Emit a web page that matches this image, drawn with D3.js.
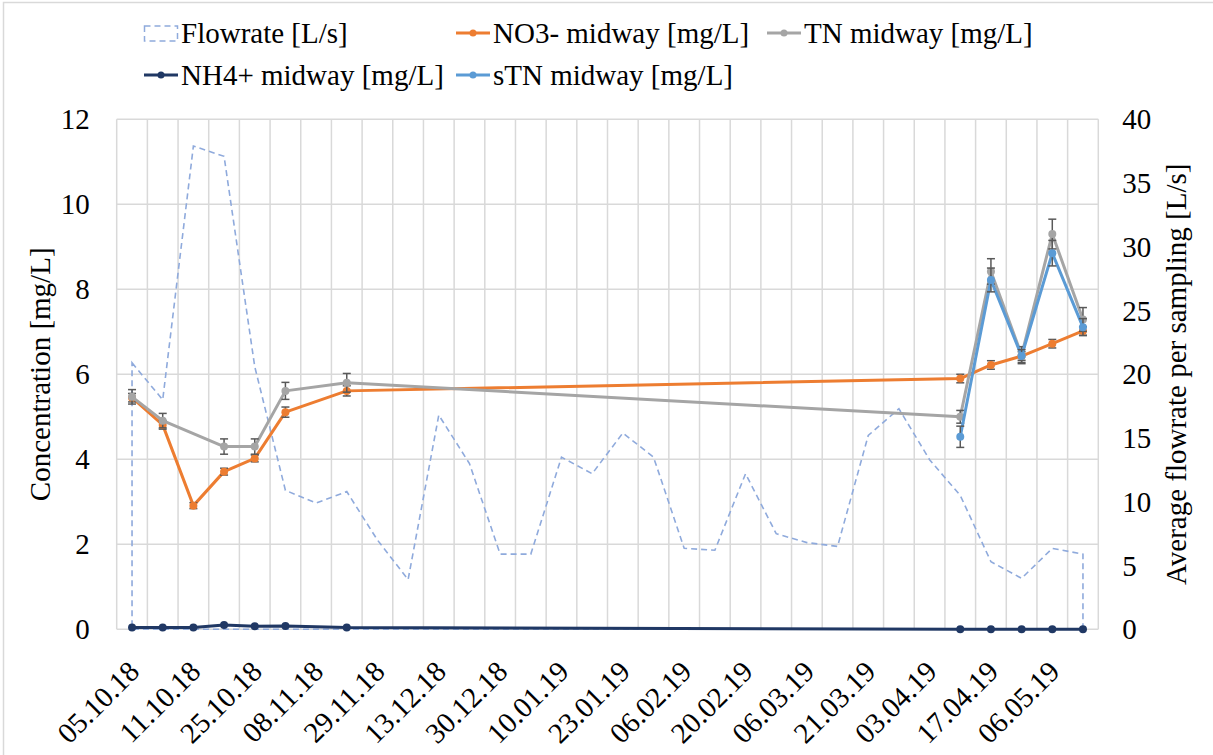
<!DOCTYPE html>
<html>
<head>
<meta charset="utf-8">
<script src="https://cdn.jsdelivr.net/npm/d3@7"></script>
</head>
<body style="margin:0">
<div id="chart1"></div>
<script>
// sampling dates (only every 2nd one gets a label on the axis)
const dates = ["05.10.18","08.10.18","11.10.18","18.10.18","25.10.18","01.11.18","08.11.18","15.11.18",
               "29.11.18","06.12.18","13.12.18","20.12.18","30.12.18","03.01.19","10.01.19","17.01.19",
               "23.01.19","30.01.19","06.02.19","13.02.19","20.02.19","27.02.19","06.03.19","13.03.19",
               "21.03.19","27.03.19","03.04.19","10.04.19","17.04.19","24.04.19","06.05.19","13.05.19"];

// Average flowrate per sampling [L/s]
const flowrate = [20.9, 18.0, 37.9, 37.1, 20.6, 10.9, 9.9, 10.8, 7.0, 3.9, 16.8, 13.0, 5.9, 5.9, 13.5, 12.2,
                  15.4, 13.5, 6.35, 6.2, 12.2, 7.5, 6.8, 6.5, 15.2, 17.3, 13.3, 10.5, 5.3, 4.0, 6.35, 5.9];

const N = null;
// concentrations [mg/L]
const no3 = [5.45, 4.81, 2.91, 3.71, 4.02, 5.11, N, 5.61, N, N, N, N, N, N, N, N,
             N, N, N, N, N, N, N, N, N, N, N, 5.90, 6.22, 6.43, 6.72, 7.02];
const tn  = [5.47, 4.91, N, 4.30, 4.30, 5.61, N, 5.80, N, N, N, N, N, N, N, N,
             N, N, N, N, N, N, N, N, N, N, N, 5.00, 8.42, 6.45, 9.30, 7.29];
const nh4 = [0.04, 0.04, 0.04, 0.10, 0.07, 0.08, N, 0.04, N, N, N, N, N, N, N, N,
             N, N, N, N, N, N, N, N, N, N, N, 0.0, 0.0, 0.0, 0.0, 0.0];
const stn = [N, N, N, N, N, N, N, N, N, N, N, N, N, N, N, N,
             N, N, N, N, N, N, N, N, N, N, N, 4.53, 8.22, 6.43, 8.85, 7.11];

// error bars (+/-)
const no3Err = [0.1, 0.1, 0.07, 0.08, 0.08, 0.12, N, 0.12, N, N, N, N, N, N, N, N,
                N, N, N, N, N, N, N, N, N, N, N, 0.1, 0.1, 0.1, 0.1, 0.1];
const tnErr  = [0.17, 0.17, N, 0.18, 0.18, 0.2, N, 0.22, N, N, N, N, N, N, N, N,
                N, N, N, N, N, N, N, N, N, N, N, 0.15, 0.3, 0.2, 0.35, 0.28];
const stnErr = [N, N, N, N, N, N, N, N, N, N, N, N, N, N, N, N,
                N, N, N, N, N, N, N, N, N, N, N, 0.25, 0.28, 0.15, 0.3, 0.2];

const leftTicks = [0, 2, 4, 6, 8, 10, 12];
const rightTicks = [0, 5, 10, 15, 20, 25, 30, 35, 40];

var w = 1213;
var h = 755;
// plot area edges (own names, "top" is taken by window.top)
var pL = 116.7, pR = 1098.3, pT = 119.3, pB = 629.3;

var svg = d3.select("#chart1")
            .append("svg")
            .attr("width", w)
            .attr("height", h);

// serif text helper (font set on the element itself)
function label(x, y, str) {
    return svg.append("text")
        .attr("x", x).attr("y", y)
        .attr("font-family", "Liberation Serif")
        .attr("font-size", 29)
        .attr("fill", "black")
        .text(str);
}

// outer chart border
svg.append("rect")
    .attr("x", 3.5).attr("y", 2.5)
    .attr("width", w + 10).attr("height", h + 10)
    .attr("fill", "white")
    .attr("stroke", "#d9d9d9")
    .attr("stroke-width", 1.5);

var xScale = d3.scaleBand()
            .domain(d3.range(dates.length))
            .range([pL, pR]);
var cx = i => xScale(i) + xScale.bandwidth() / 2;

var yScale = d3.scaleLinear().domain([0, 12]).range([pB, pT]);
var yRight = d3.scaleLinear().domain([0, 40]).range([pB, pT]);

//gridlines
svg.append("g").selectAll("line")
    .data(leftTicks)
    .enter().append("line")
    .attr("x1", pL).attr("x2", pR)
    .attr("y1", d => yScale(d)).attr("y2", d => yScale(d))
    .attr("stroke", "#d9d9d9").attr("stroke-width", 1.5);

svg.append("g").selectAll("line")
    .data(d3.range(dates.length + 1))
    .enter().append("line")
    .attr("x1", i => pL + i * xScale.bandwidth())
    .attr("x2", i => pL + i * xScale.bandwidth())
    .attr("y1", pT).attr("y2", pB)
    .attr("stroke", "#d9d9d9").attr("stroke-width", 1.5);

// flowrate as dashed area outline on right axis
var area = d3.area()
    .x((d, i) => cx(i))
    .y0(yRight(0))
    .y1(d => yRight(d));
svg.append("path")
    .datum(flowrate)
    .attr("d", area)
    .attr("fill", "none")
    .attr("stroke", "#8faadc")
    .attr("stroke-width", 1.6)
    .attr("stroke-dasharray", "6,4");

var series = [
    {vals: nh4, err: null, color: "#203864"},
    {vals: no3, err: no3Err, color: "#ed7d31"},
    {vals: tn, err: tnErr, color: "#a5a5a5"},
    {vals: stn, err: stnErr, color: "#5b9bd5"}
];

var line = d3.line()
    .x(d => cx(d.i))
    .y(d => yScale(d.v));

series.forEach(s => {
    var pts = s.vals.map((v, i) => ({i: i, v: v, e: s.err ? s.err[i] : null}))
                    .filter(d => d.v !== null);

    svg.append("path")
        .datum(pts)
        .attr("d", line)
        .attr("fill", "none")
        .attr("stroke", s.color)
        .attr("stroke-width", 3)
        .attr("stroke-linejoin", "round");

    // error bars
    var eb = svg.append("g").attr("stroke", "#595959").attr("stroke-width", 1.5);
    pts.filter(d => d.e !== null).forEach(d => {
        var x = cx(d.i);
        eb.append("line").attr("x1", x).attr("x2", x)
            .attr("y1", yScale(d.v - d.e)).attr("y2", yScale(d.v + d.e));
        eb.append("line").attr("x1", x - 4).attr("x2", x + 4)
            .attr("y1", yScale(d.v - d.e)).attr("y2", yScale(d.v - d.e));
        eb.append("line").attr("x1", x - 4).attr("x2", x + 4)
            .attr("y1", yScale(d.v + d.e)).attr("y2", yScale(d.v + d.e));
    });

    svg.append("g").selectAll("circle")
        .data(pts)
        .enter().append("circle")
        .attr("cx", d => cx(d.i))
        .attr("cy", d => yScale(d.v))
        .attr("r", 4)
        .attr("fill", s.color);
});

// left axis ticks (labels only)
leftTicks.forEach(t => {
    label(pL - 27, yScale(t) + 10, t).attr("text-anchor", "end");
});

// right axis ticks
rightTicks.forEach(t => {
    label(pR + 24, yRight(t) + 10, t);
});

// x labels, every second date
dates.forEach((d, i) => {
    if (i % 2 !== 0) return;
    label(0, 0, d)
        .attr("text-anchor", "end")
        .attr("transform", "translate(" + (cx(i) + 9) + "," + (pB + 44) + ") rotate(-45)");
});

// axis titles
label(0, 0, "Concentration [mg/L]")
    .attr("text-anchor", "middle")
    .attr("transform", "translate(50," + (pT + pB) / 2 + ") rotate(-90)");

label(0, 0, "Average flowrate per sampling [L/s]")
    .attr("text-anchor", "middle")
    .attr("transform", "translate(1186," + (pT + pB) / 2 + ") rotate(-90)");

// legend
var legend = [
    {name: "Flowrate [L/s]", color: "#8faadc", x: 144, y: 33, area: true},
    {name: "NO3- midway [mg/L]", color: "#ed7d31", x: 456, y: 33},
    {name: "TN midway [mg/L]", color: "#a5a5a5", x: 767, y: 33},
    {name: "NH4+ midway [mg/L]", color: "#203864", x: 144, y: 75},
    {name: "sTN midway [mg/L]", color: "#5b9bd5", x: 456, y: 75}
];
legend.forEach(l => {
    if (l.area) {
        svg.append("rect")
            .attr("x", l.x + 0.5).attr("y", l.y - 7)
            .attr("width", 33).attr("height", 15)
            .attr("fill", "none")
            .attr("stroke", l.color)
            .attr("stroke-width", 1.5)
            .attr("stroke-dasharray", "6,4");
    } else {
        svg.append("line")
            .attr("x1", l.x).attr("x2", l.x + 34)
            .attr("y1", l.y).attr("y2", l.y)
            .attr("stroke", l.color).attr("stroke-width", 3);
        svg.append("circle")
            .attr("cx", l.x + 17).attr("cy", l.y).attr("r", 3.5)
            .attr("fill", l.color);
    }
    label(l.x + 37, l.y + 10, l.name);
});
</script>
</body>
</html>
